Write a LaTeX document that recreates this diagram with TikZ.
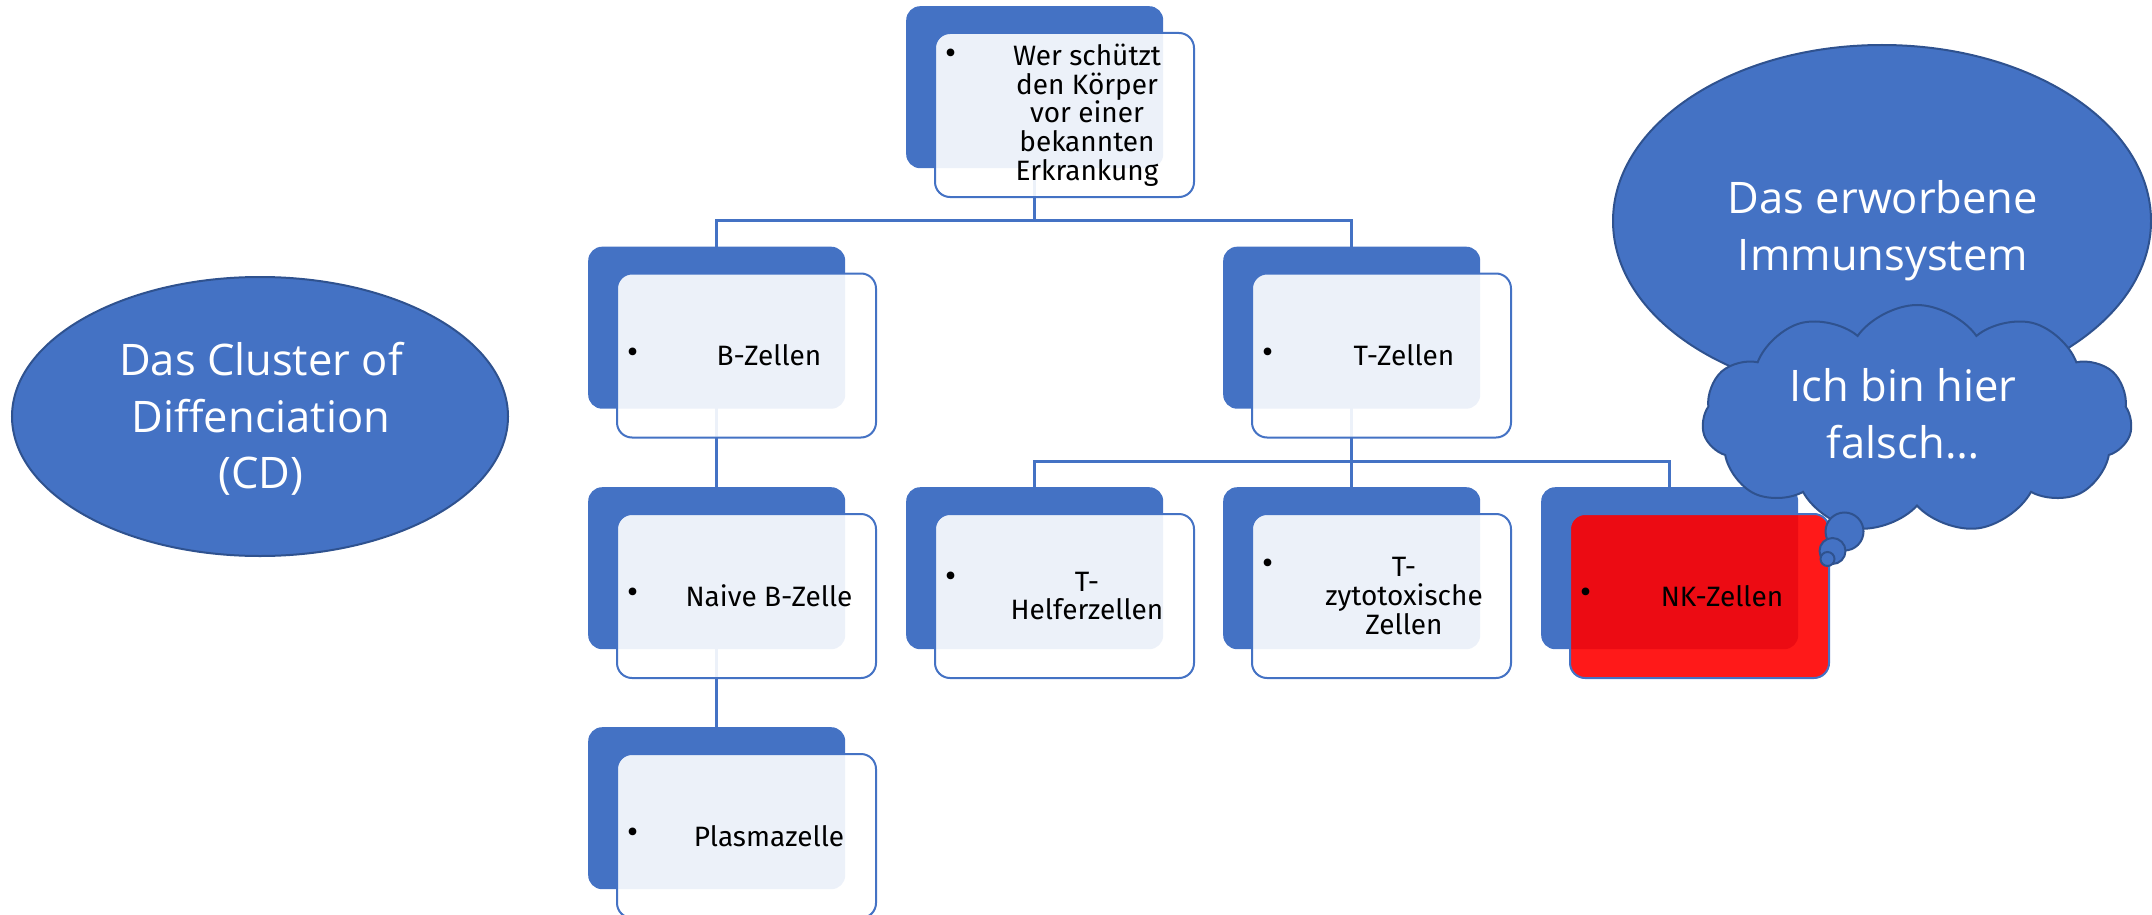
\documentclass[tikz,border=0pt]{standalone}
\usepackage{fontspec}
\setmainfont{Open Sans}
\newfontfamily\boxfont{Fira Sans}
\usetikzlibrary{shapes.symbols,shapes.geometric,calc,backgrounds}
\definecolor{accent}{HTML}{4472C4}
\definecolor{accentdark}{HTML}{2F528F}
\definecolor{alarm}{HTML}{FF0000}
\tikzset{
 backbox/.style={fill=accent, rounded corners=14pt, minimum width=257pt, minimum height=162pt, anchor=north west, inner sep=0pt, draw=none},
 frontbox/.style={fill=white, fill opacity=0.9, draw=accent, draw opacity=1, line width=2pt, rounded corners=15pt, minimum width=259pt, minimum height=164pt, anchor=north west, inner sep=0pt},
 boxtext/.style={text=black, align=center, font=\boxfont\fontsize{28}{28.7}\selectfont, inner sep=0pt},
 bulletmark/.style={text=black, font=\boxfont\fontsize{34}{34}\selectfont, inner sep=0pt},
 conn/.style={draw=accent, line width=2.5pt},
 bigshape/.style={fill=accent, draw=accentdark, line width=2pt},
 bigtext/.style={text=white, align=center, font=\fontsize{43.5}{56.7}\selectfont, inner sep=0pt},
}
\newcommand\cellbox[6]{%
 \node[backbox] (#1-b) at (#2,#3) {};
 \node[frontbox, fill=#4] (#1-f) at ($(#1-b.north west)+(28,26)$) {};
 \node[boxtext] (#1-t) at ($(#1-f.west)+(153,0)$) {#5};
 \node[bulletmark] (#1-d) at ($(#1-f.west)+(17,#6)$) {•};
}
\begin{document}
\begin{tikzpicture}[x=1pt,y=-1pt]
\useasboundingbox (0,0) rectangle (2152,915);
% left ellipse
\node[ellipse, bigshape, minimum width=496pt, minimum height=279pt, inner sep=0pt] (cd) at (260,416.5) {};
\node[bigtext] (cdtxt) at (261,419) {Das Cluster of\\Diffenciation\\(CD)};
% right ellipse
\node[ellipse, bigshape, minimum width=538pt, minimum height=352pt, inner sep=0pt] (imm) at (1882,221) {};
\node[bigtext] (immtxt) at (1883,231) {Das erworbene\\Immunsystem};
% hierarchy
\cellbox{top}{906}{6}{white}{Wer schützt\\den Körper\\vor einer\\bekannten\\Erkrankung}{-58}
\cellbox{B}{588}{246.5}{white}{B-Zellen}{0}
\cellbox{T}{1223}{246.5}{white}{T-Zellen}{0}
\cellbox{N}{588}{487}{white}{Naive B-Zelle}{0}
\cellbox{H}{906}{487}{white}{T-\\Helferzellen}{-16.5}
\cellbox{Z}{1223}{487}{white}{T-\\zytotoxische\\Zellen}{-29.5}
\cellbox{NK}{1541}{487}{alarm}{NK-Zellen}{0}
\cellbox{P}{588}{727}{white}{Plasmazelle}{0}
\begin{scope}[on background layer]
 \coordinate (h1) at (0,220.7);
 \coordinate (h2) at (0,461.5);
 \draw[conn] (top-b.center) -- (top-b.center |- h1);
 \draw[conn] (B-b.north) -- (B-b.north |- h1) -- (T-b.north |- h1) -- (T-b.north);
 \draw[conn] (B-b.center) -- (N-b.north);
 \draw[conn] (N-b.center) -- (P-b.north);
 \draw[conn] (T-b.center) -- (T-b.center |- h2);
 \draw[conn] (H-b.north) -- (H-b.north |- h2) -- (NK-b.north |- h2) -- (NK-b.north);
 \draw[conn] (Z-b.north |- h2) -- (Z-b.north);
\end{scope}
% thought cloud
\node[cloud, cloud puffs=11, cloud puff arc=110, cloud ignores aspect, minimum width=430pt, minimum height=228pt, bigshape, inner sep=0pt] (cloud) at (1917,419) {};
\node[bigtext] (cloudtxt) at (1903,414) {Ich bin hier\\falsch…};
\node[circle, bigshape, minimum size=38pt, inner sep=0pt] (p1) at (1844.5,531.5) {};
\node[circle, bigshape, minimum size=26pt, inner sep=0pt] (p2) at (1832.5,551) {};
\node[circle, bigshape, minimum size=14pt, inner sep=0pt] (p3) at (1827.5,559) {};
\end{tikzpicture}
\end{document}
